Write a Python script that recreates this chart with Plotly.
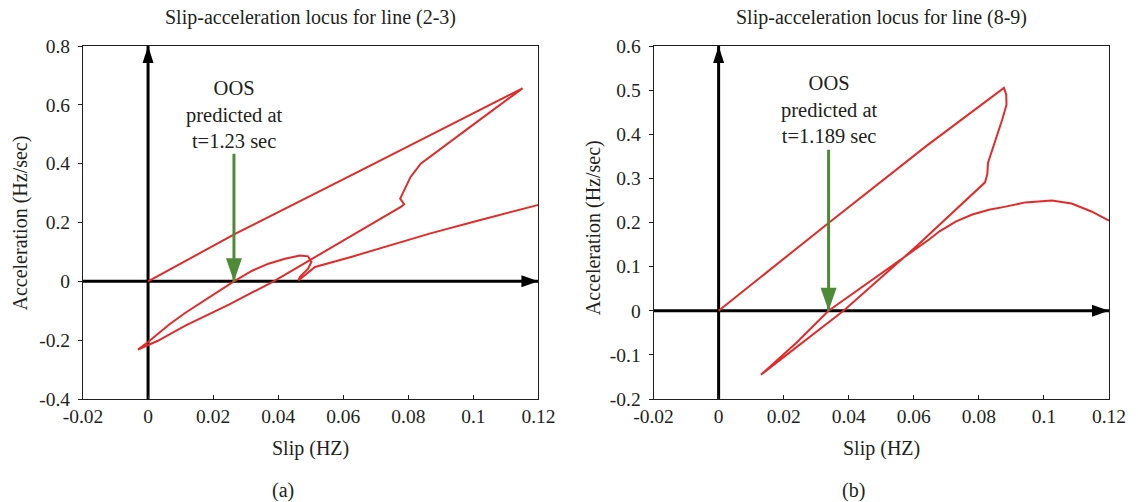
import plotly.graph_objects as go

# ---- locus (a): line (2-3) ----
slip_a = [0.0, 0.0269, 0.0624, 0.097, 0.1151,
          0.1011, 0.0899, 0.0838, 0.0807, 0.0782, 0.0775, 0.0787, 0.0777,
          0.0706, 0.0635, 0.0502, 0.0386, 0.0250, 0.0116, 0.0030, -0.0031,
          0.0, 0.0066, 0.0116, 0.0188, 0.0264, 0.0320, 0.0370, 0.0421, 0.0467,
          0.0492, 0.0502, 0.0492, 0.0467, 0.0462,
          0.0513, 0.0624, 0.0736, 0.0868, 0.1010, 0.1200]
acc_a = [0.0, 0.162, 0.3605, 0.554, 0.656,
         0.542, 0.451, 0.400, 0.355, 0.298, 0.281, 0.262, 0.253,
         0.207, 0.161, 0.075, 0.0, -0.078, -0.150, -0.202, -0.232,
         -0.206, -0.146, -0.106, -0.055, 0.0, 0.036, 0.060, 0.077, 0.088,
         0.085, 0.066, 0.043, 0.015, 0.003,
         0.049, 0.083, 0.120, 0.163, 0.205, 0.260]

# ---- locus (b): line (8-9) ----
slip_b = [0.0, 0.0338, 0.0638, 0.0877,
          0.0884, 0.0885, 0.0872, 0.0855, 0.0838, 0.0828, 0.0826, 0.0821, 0.0819,
          0.0608, 0.0384, 0.0130,
          0.0240, 0.0338, 0.0476, 0.0560, 0.0608, 0.0648, 0.0679, 0.0730, 0.0780,
          0.0831, 0.0882, 0.0943, 0.1024, 0.1085, 0.1146, 0.1200]
acc_b = [0.0, 0.199, 0.373, 0.505,
         0.490, 0.467, 0.434, 0.397, 0.360, 0.335, 0.310, 0.296, 0.291,
         0.146, 0.0, -0.145,
         -0.072, 0.0, 0.072, 0.116, 0.140, 0.162, 0.180, 0.2025, 0.218,
         0.229, 0.236, 0.2456, 0.250, 0.243, 0.225, 0.204]

# axis ranges and ticks
x_range = [-0.02, 0.12]
y_range_a = [-0.4, 0.8]
y_range_b = [-0.2, 0.6]
x_ticks = [-0.02, 0, 0.02, 0.04, 0.06, 0.08, 0.1, 0.12]
x_ticktext = ["-0.02", "0", "0.02", "0.04", "0.06", "0.08", "0.1", "0.12"]
y_ticks_a = [-0.4, -0.2, 0, 0.2, 0.4, 0.6, 0.8]
y_ticktext_a = ["-0.4", "-0.2", "0", "0.2", "0.4", "0.6", "0.8"]
y_ticks_b = [-0.2, -0.1, 0, 0.1, 0.2, 0.3, 0.4, 0.5, 0.6]
y_ticktext_b = ["-0.2", "-0.1", "0", "0.1", "0.2", "0.3", "0.4", "0.5", "0.6"]

# out-of-step prediction markers: slip where the arrow lands, arrow top
oos_slip = [0.0264, 0.0338]
oos_arrow_top = [0.434, 0.365]
oos_text = ["OOS<br>predicted at<br>t=1.23 sec", "OOS<br>predicted at<br>t=1.189 sec"]
oos_text_y = [0.568, 0.456]

titles = ["Slip-acceleration locus for line (2-3)", "Slip-acceleration locus for line (8-9)"]
panel_tags = ["(a)", "(b)"]

RED = "#e52a2a"
GREEN = "#4d8b37"
INK = "#231f20"
FONT = "Liberation Serif, Times New Roman, serif"

fig = go.Figure()
fig.add_trace(go.Scatter(x=slip_a, y=acc_a, mode="lines", xaxis="x", yaxis="y",
                         line=dict(color=RED, width=2), showlegend=False))
fig.add_trace(go.Scatter(x=slip_b, y=acc_b, mode="lines", xaxis="x2", yaxis="y2",
                         line=dict(color=RED, width=2), showlegend=False))

dom_a = [0.0, 0.4439]
dom_b = [0.5561, 1.0]

common_x = dict(range=x_range, tickvals=x_ticks, ticktext=x_ticktext,
                showline=True, mirror=True, linecolor=INK, linewidth=1,
                ticks="inside", ticklen=4, tickcolor=INK, showgrid=False,
                zeroline=False, tickfont=dict(family=FONT, size=19.5, color=INK))
common_y = dict(showline=True, mirror=True, linecolor=INK, linewidth=1,
                ticks="outside", ticklen=4, tickcolor=INK, showgrid=False,
                zeroline=False, ticklabelstandoff=4,
                tickfont=dict(family=FONT, size=19.5, color=INK))

fig.update_layout(
    width=1138, height=502,
    margin=dict(l=83, r=21, t=46, b=103),
    paper_bgcolor="white", plot_bgcolor="white",
    font=dict(family=FONT, color=INK),
    xaxis=dict(domain=dom_a, anchor="y", **common_x),
    yaxis=dict(domain=[0, 1], anchor="x", range=y_range_a,
               tickvals=y_ticks_a, ticktext=y_ticktext_a, **common_y),
    xaxis2=dict(domain=dom_b, anchor="y2", **common_x),
    yaxis2=dict(domain=[0, 1], anchor="x2", range=y_range_b,
                tickvals=y_ticks_b, ticktext=y_ticktext_b, **common_y),
)

shapes = []
annotations = []
panels = [("x", "y", y_range_a, dom_a), ("x2", "y2", y_range_b, dom_b)]
for i, (xr, yr, yrng, dom) in enumerate(panels):
    # coordinate axes drawn as heavy arrows through the origin
    shapes.append(dict(type="line", xref=xr, yref=yr, x0=0, x1=0,
                       y0=yrng[0], y1=yrng[1], line=dict(color="black", width=3),
                       layer="below"))
    shapes.append(dict(type="path", xref=xr, yref=yr, xsizemode="pixel",
                       ysizemode="pixel", xanchor=0, yanchor=yrng[1],
                       path="M-5.5,-17L0,0L5.5,-17Z", fillcolor="black",
                       line=dict(width=0), layer="below"))
    shapes.append(dict(type="line", xref=xr, yref=yr, x0=x_range[0], x1=x_range[1],
                       y0=0, y1=0, line=dict(color="black", width=3), layer="below"))
    shapes.append(dict(type="path", xref=xr, yref=yr, xsizemode="pixel",
                       ysizemode="pixel", xanchor=x_range[1], yanchor=0,
                       path="M-17,-6L0,0L-17,6Z", fillcolor="black",
                       line=dict(width=0), layer="below"))
    # green OOS arrow
    shapes.append(dict(type="line", xref=xr, yref=yr, x0=oos_slip[i], x1=oos_slip[i],
                       y0=oos_arrow_top[i], y1=0, line=dict(color=GREEN, width=3)))
    shapes.append(dict(type="path", xref=xr, yref=yr, xsizemode="pixel",
                       ysizemode="pixel", xanchor=oos_slip[i], yanchor=0,
                       path="M-8,23L0,0L8,23Z", fillcolor=GREEN, line=dict(width=0)))
    annotations.append(dict(xref=xr, yref=yr, x=oos_slip[i], y=oos_text_y[i],
                            text=oos_text[i], showarrow=False, xanchor="center",
                            yanchor="middle", align="center",
                            font=dict(family=FONT, size=20.5, color=INK)))
    xmid = (dom[0] + dom[1]) / 2
    annotations.append(dict(xref="paper", yref="paper", x=xmid, y=1.082,
                            text=titles[i], showarrow=False, xanchor="center",
                            yanchor="middle", font=dict(family=FONT, size=20, color=INK)))
    annotations.append(dict(xref="paper", yref="paper", x=xmid, y=-0.1416,
                            text="Slip (HZ)", showarrow=False, xanchor="center",
                            yanchor="middle", font=dict(family=FONT, size=20, color=INK)))
    annotations.append(dict(xref="paper", yref="paper", x=xmid - 0.027, y=-0.2606,
                            text=panel_tags[i], showarrow=False, xanchor="center",
                            yanchor="middle", font=dict(family=FONT, size=20, color=INK)))

annotations.append(dict(xref="paper", yref="paper", x=-0.0609, y=0.4986,
                        text="Acceleration (Hz/sec)", textangle=-90, showarrow=False,
                        xanchor="center", yanchor="middle",
                        font=dict(family=FONT, size=20, color=INK)))
annotations.append(dict(xref="paper", yref="paper", x=0.4971, y=0.484,
                        text="Acceleration (Hz/sec)", textangle=-90, showarrow=False,
                        xanchor="center", yanchor="middle",
                        font=dict(family=FONT, size=20, color=INK)))

fig.update_layout(shapes=shapes, annotations=annotations)
fig.write_html("out.html")
